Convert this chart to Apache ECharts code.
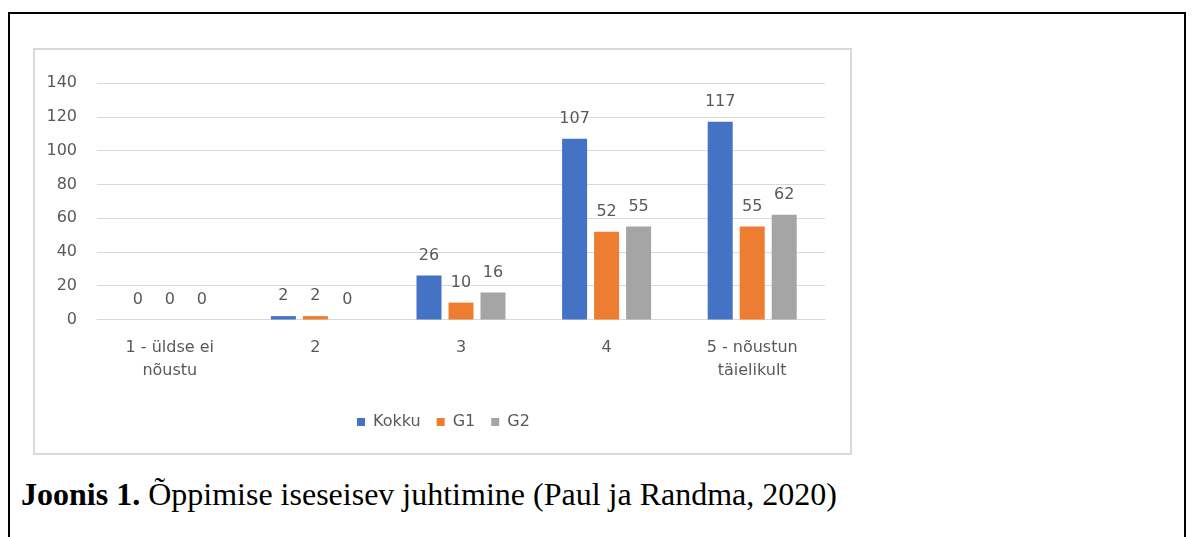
<!DOCTYPE html>
<html>
<head>
<meta charset="utf-8">
<title>Joonis 1</title>
<script src="https://cdn.jsdelivr.net/npm/echarts@6/dist/echarts.min.js"></script>
<style>
  html, body { margin: 0; padding: 0; background: #fff; }
  body { width: 1196px; height: 537px; position: relative; overflow: hidden; }
  .frame-top { position: absolute; left: 8px; top: 12px; width: 1178px; height: 2px; background: #000; }
  .frame-left { position: absolute; left: 8px; top: 12px; width: 2px; height: 525px; background: #000; }
  .frame-right { position: absolute; left: 1184px; top: 12px; width: 2px; height: 525px; background: #000; }
  .panel { position: absolute; left: 33px; top: 48px; width: 815px; height: 403px; border: 2px solid #d9d9d9; }
  #chart { position: absolute; left: 33px; top: 48px; width: 819px; height: 407px; }
  .caption {
    position: absolute; left: 21px; top: 476px;
    font-family: "Liberation Serif", "Times New Roman", serif;
    font-size: 32px; line-height: 37px; color: #000; white-space: nowrap;
  }
</style>
</head>
<body>
<div class="frame-top"></div>
<div class="frame-left"></div>
<div class="frame-right"></div>
<div class="panel"></div>
<div id="chart"></div>
<div class="caption"><b>Joonis 1.</b> Õppimise iseseisev juhtimine (Paul ja Randma, 2020)</div>

<script>
// andmed
const categories = ['1 - üldse ei\nnõustu', '2', '3', '4', '5 - nõustun\ntäielikult']
const kokku = [0, 2, 26, 107, 117]
const g1 = [0, 2, 10, 52, 55]
const g2 = [0, 0, 16, 55, 62]
const yTicks = { min: 0, max: 140, interval: 20 }

const textColor = '#595959'
const font = 'DejaVu Sans'

const chartInstance = echarts.init(document.getElementById('chart'))

const makeSeries = (name, data, color) => ({
  name: name,
  type: 'bar',
  data: data,
  barWidth: 25,
  barGap: '28%',
  itemStyle: { color: color },
  label: {
    show: true,
    position: 'top',
    distance: 12,
    color: textColor,
    fontFamily: font,
    fontSize: 16,
  },
})

chartInstance.setOption({
  animation: false,
  textStyle: { fontFamily: font },
  grid: {
    left: 64,
    top: 35,
    width: 728,
    height: 236.5,
    containLabel: false,
  },
  legend: {
    left: 319,
    top: 361,
    itemWidth: 8,
    itemHeight: 8,
    itemGap: 16,
    icon: 'rect',
    textStyle: {
      color: textColor,
      fontFamily: font,
      fontSize: 16,
      padding: [0, 0, 0, 3],
    },
    data: ['Kokku', 'G1', 'G2'],
  },
  xAxis: {
    type: 'category',
    data: categories,
    axisLine: { lineStyle: { color: '#d9d9d9', width: 1 } },
    axisTick: { show: false },
    axisLabel: {
      color: textColor,
      fontFamily: font,
      fontSize: 16,
      lineHeight: 23,
      margin: 17,
      interval: 0,
    },
  },
  yAxis: {
    type: 'value',
    min: yTicks.min,
    max: yTicks.max,
    interval: yTicks.interval,
    axisLine: { show: false },
    axisTick: { show: false },
    axisLabel: {
      color: textColor,
      fontFamily: font,
      fontSize: 16,
      margin: 20,
    },
    splitLine: { lineStyle: { color: '#d9d9d9', width: 1 } },
  },
  series: [
    makeSeries('Kokku', kokku, '#4472c4'),
    makeSeries('G1', g1, '#ed7d31'),
    makeSeries('G2', g2, '#a5a5a5'),
  ],
})
</script>
</body>
</html>
